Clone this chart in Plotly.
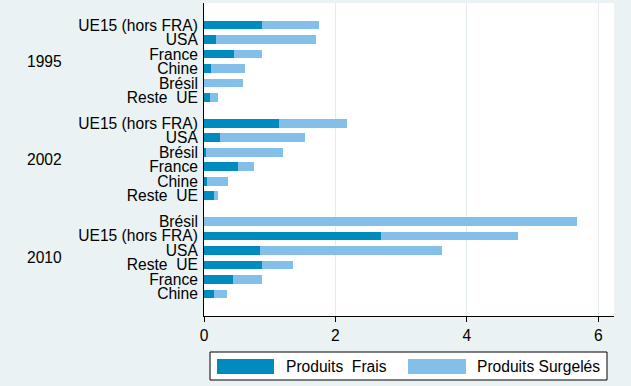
import plotly.graph_objects as go

years = ["1995", "2002", "2010"]
categories = [
    ["UE15 (hors FRA)", "USA", "France", "Chine", "Brésil", "Reste\u00a0 UE"],
    ["UE15 (hors FRA)", "USA", "Brésil", "France", "Chine", "Reste\u00a0 UE"],
    ["Brésil", "UE15 (hors FRA)", "USA", "Reste\u00a0 UE", "France", "Chine"],
]
frais = [
    [0.88, 0.18, 0.45, 0.10, 0.00, 0.09],
    [1.14, 0.24, 0.025, 0.51, 0.04, 0.15],
    [0.00, 2.69, 0.85, 0.88, 0.44, 0.15],
]
surgeles = [
    [0.87, 1.52, 0.44, 0.52, 0.60, 0.12],
    [1.03, 1.29, 1.175, 0.25, 0.32, 0.07],
    [5.67, 2.09, 2.77, 0.47, 0.44, 0.20],
]
series_names = ["Produits\u00a0 Frais", "Produits Surgelés"]
colors = ["#008BBE", "#84BFEA"]
x_ticks = [0, 2, 4, 6]

BG = "#EAF2F3"
FONT = "Liberation Sans, Arial, sans-serif"
FS = 15.6
STRIDE = 6.77

ypos, ylab, fr, sg = [], [], [], []
for g, cats in enumerate(categories):
    for i, c in enumerate(cats):
        ypos.append(g * STRIDE + i)
        ylab.append(c)
        fr.append(frais[g][i])
        sg.append(surgeles[g][i])

fig = go.Figure()
fig.add_trace(go.Bar(x=fr, y=ypos, orientation="h", name=series_names[0],
                     marker=dict(color=colors[0], line=dict(width=0)), width=0.6))
fig.add_trace(go.Bar(x=sg, y=ypos, orientation="h", name=series_names[1],
                     marker=dict(color=colors[1], line=dict(width=0)), width=0.6))

# year annotations
for g, yr in enumerate(years):
    fig.add_annotation(x=-0.388, xref="paper", y=g * STRIDE + 2.5, yref="y",
                       text=yr, showarrow=False, xanchor="center", yanchor="middle",
                       font=dict(size=FS, color="black", family=FONT))

# manual legend
def px(x):
    return (x - 204) / 410.0

def py(y):
    return (316 - y) / 313.0

fig.add_shape(type="rect", xref="paper", yref="paper", x0=px(210), x1=px(607),
              y0=py(352), y1=py(380), line=dict(color="black", width=1), fillcolor="white")
legend_items = [(217, 274, 284), (408, 466, 475)]
for k, (sx0, sx1, tx) in enumerate(legend_items):
    fig.add_shape(type="rect", xref="paper", yref="paper", x0=px(sx0), x1=px(sx1),
                  y0=py(359), y1=py(374), line=dict(width=0), fillcolor=colors[k])
    fig.add_annotation(x=px(tx), y=py(366.5), xref="paper", yref="paper",
                       text=series_names[k], showarrow=False, xanchor="left",
                       yanchor="middle", font=dict(size=FS, color="black", family=FONT))

fig.update_layout(
    barmode="stack",
    width=631, height=386,
    margin=dict(l=204, r=17, t=3, b=70),
    paper_bgcolor=BG,
    plot_bgcolor="white",
    showlegend=False,
    font=dict(family=FONT, size=FS, color="black"),
    bargap=0,
)
fig.update_xaxes(range=[0, 6.24], tickvals=x_ticks, showgrid=True, gridcolor="#E4ECEE",
                 gridwidth=1, zeroline=False, showline=True, linecolor="black",
                 linewidth=1, ticks="outside", ticklen=5, tickcolor="black",
                 tickfont=dict(size=FS, color="black", family=FONT))
fig.update_yaxes(range=[20.06, -1.52], tickvals=ypos, ticktext=ylab, showgrid=False,
                 zeroline=False, showline=True, linecolor="black", linewidth=1,
                 ticks="", tickfont=dict(size=FS, color="black", family=FONT),
                 ticklabelstandoff=2)

fig.write_html("out.html", config={"displayModeBar": False},
               post_script="document.body.style.margin='0';document.body.style.overflow='hidden';")
